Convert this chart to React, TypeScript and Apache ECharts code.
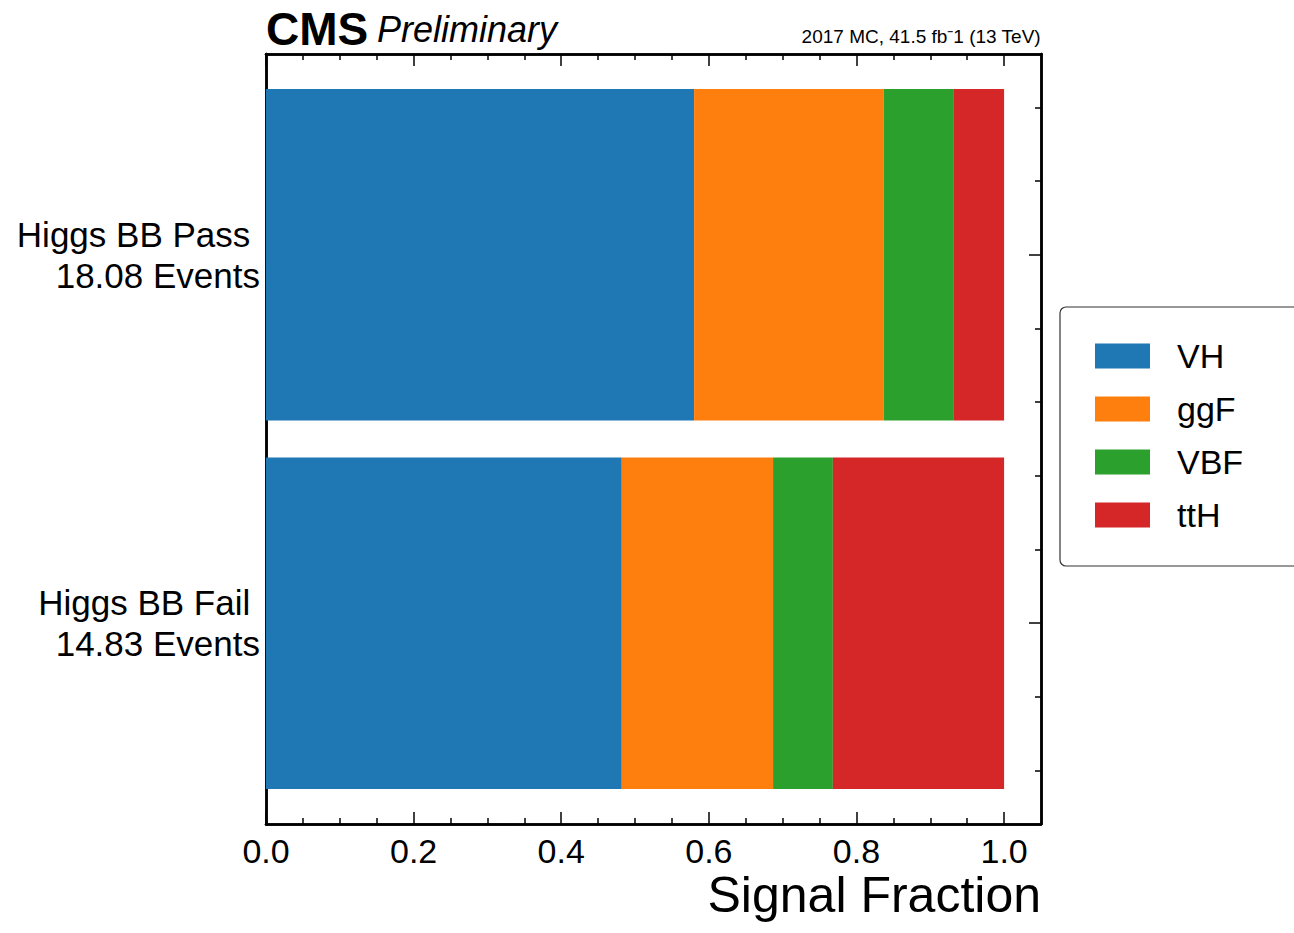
import { useEffect, useRef } from "react";
import * as echarts from "echarts";

const categories = ["Higgs BB Fail \n14.83 Events", "Higgs BB Pass \n18.08 Events"];
const processes = ["VH", "ggF", "VBF", "ttH"];
const colors = ["#1f77b4", "#ff7f0e", "#2ca02c", "#d62728"];
// fractions per process, [Fail, Pass]
const fractions = [
  [0.482, 0.58],
  [0.205, 0.257],
  [0.081, 0.095],
  [0.232, 0.068],
];
const xMajor = [0, 0.2, 0.4, 0.6, 0.8, 1.0];
const xMinor = [0.05, 0.1, 0.15, 0.25, 0.3, 0.35, 0.45, 0.5, 0.55, 0.65, 0.7, 0.75, 0.85, 0.9, 0.95];
const yMajor = [0, 1];
const yMinor = [-0.4, -0.2, 0.2, 0.4, 0.6, 0.8, 1.2, 1.4];

const FONT = "Liberation Sans";
const BAR_H = 0.9;

export default function App() {
  const ref = useRef<HTMLDivElement>(null);

  useEffect(() => {
    if (!ref.current) return;
    const chart = echarts.init(ref.current, undefined, { renderer: "svg" });

    const lineStyle = { color: "#000", width: 2.5 };
    const axisLine = { show: true, onZero: false, lineStyle };
    const xAxisBase = { type: "value", min: 0, max: 1.05, splitLine: { show: false }, axisLine };
    const yAxisBase = { type: "value", min: -0.545, max: 1.545, splitLine: { show: false }, axisLine };
    const tick = (vals: number[], len: number) => ({ show: true, inside: true, length: len, customValues: vals, lineStyle: { color: "#000", width: 1.5 } });

    const series = processes.map((p, pi) => ({
      type: "custom",
      name: p,
      itemStyle: { color: colors[pi] },
      data: categories.map((_, ci) => {
        let start = 0;
        for (let k = 0; k < pi; k++) start += fractions[k][ci];
        return [start, start + fractions[pi][ci], ci];
      }),
      encode: { x: [0, 1], y: 2 },
      renderItem: (params: any, api: any) => {
        const a = api.coord([api.value(0), api.value(2) + BAR_H / 2]);
        const b = api.coord([api.value(1), api.value(2) - BAR_H / 2]);
        return {
          type: "rect",
          shape: { x: a[0], y: a[1], width: b[0] - a[0], height: b[1] - a[1] },
          style: { fill: colors[pi] },
        };
      },
    }));

    chart.setOption({
      animation: false,
      textStyle: { fontFamily: FONT },
      grid: { left: 266, top: 54, width: 775, height: 770 },
      xAxis: [
        { ...xAxisBase, position: "bottom", axisTick: tick(xMajor, 12), axisLabel: { customValues: xMajor, fontSize: 34, color: "#000", margin: 10, fontFamily: FONT, formatter: (v: number) => v.toFixed(1) } },
        { ...xAxisBase, position: "bottom", axisTick: tick(xMinor, 6), axisLabel: { show: false } },
        { ...xAxisBase, position: "top", axisTick: tick(xMajor, 12), axisLabel: { show: false } },
        { ...xAxisBase, position: "top", axisTick: tick(xMinor, 6), axisLabel: { show: false } },
      ],
      yAxis: [
        { ...yAxisBase, position: "left", axisTick: tick(yMajor, 12), axisLabel: { customValues: yMajor, fontSize: 35, color: "#000", margin: 6, lineHeight: 41, align: "right", fontFamily: FONT, formatter: (v: number) => categories[Math.round(v)] } },
        { ...yAxisBase, position: "left", axisTick: tick(yMinor, 6), axisLabel: { show: false } },
        { ...yAxisBase, position: "right", axisTick: tick(yMajor, 12), axisLabel: { show: false } },
        { ...yAxisBase, position: "right", axisTick: tick(yMinor, 6), axisLabel: { show: false } },
      ],
      legend: {
        data: processes,
        orient: "vertical",
        left: 1060,
        top: 307,
        padding: [32, 58, 34, 35],
        itemWidth: 55,
        itemHeight: 25,
        itemGap: 19,
        icon: "rect",
        borderColor: "#333",
        borderWidth: 1.2,
        borderRadius: 6,
        textStyle: { fontSize: 34, color: "#000", fontFamily: FONT, padding: [0, 0, 0, 22] },
      },
      graphic: [
        { type: "text", left: 266, top: 6, style: { text: "CMS", font: `bold 46px ${FONT}`, fill: "#000" } },
        { type: "text", left: 377, top: 11, style: { text: "Preliminary", font: `italic 36px ${FONT}`, fill: "#000" } },
        { type: "text", right: 253, top: 27, style: { text: "2017 MC, 41.5 fb⁻1 (13 TeV)", font: `19px ${FONT}`, fill: "#000" } },
        { type: "text", right: 253, top: 870, style: { text: "Signal Fraction", font: `50px ${FONT}`, fill: "#000" } },
      ],
      series,
    });
    return () => chart.dispose();
  }, []);

  return <div ref={ref} style={{ position: "fixed", left: 0, top: 0, width: 1294, height: 933, background: "#fff" }} />;
}
